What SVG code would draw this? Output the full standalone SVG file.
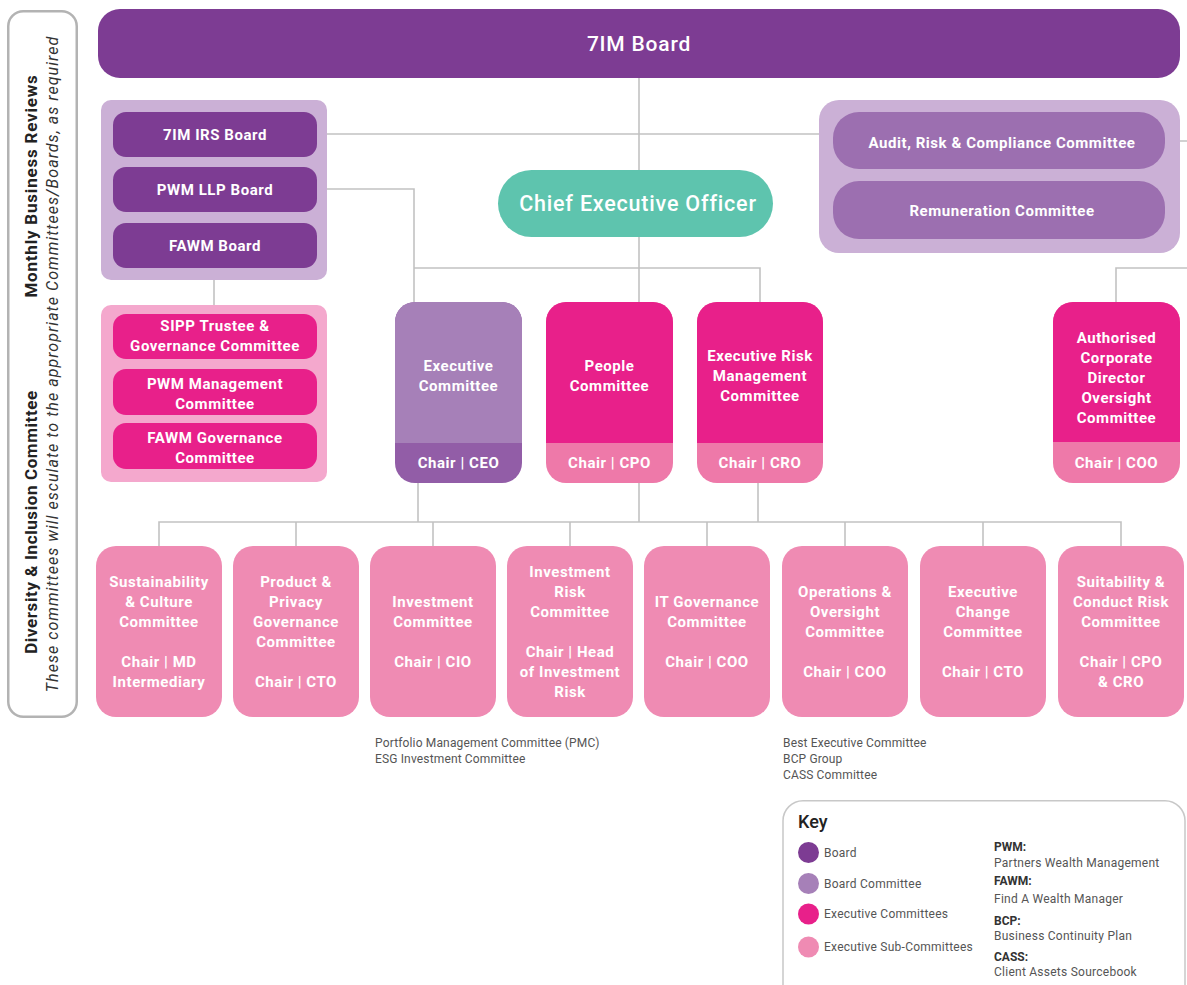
<svg xmlns="http://www.w3.org/2000/svg" width="1187" height="985" viewBox="0 0 1187 985">
<style>
.t{font-family:Roboto,"Liberation Sans",sans-serif;fill:#fff;text-anchor:middle}
.b{font-weight:bold;font-size:15px;letter-spacing:0.55px}
.ln{fill:none;stroke:#c2c2c2;stroke-width:1.6}
.g{font-family:Roboto,"Liberation Sans",sans-serif;fill:#555;font-size:12px;letter-spacing:0.25px}
.k{font-family:Roboto,"Liberation Sans",sans-serif;fill:#333;font-size:12px;font-weight:bold}
.board{fill:#7d3c93}
.bc{fill:#9c6fb0}
.panel{fill:#cbb0d6}
.exec{fill:#e8208a}
.band{fill:#ee79a9}
.sub{fill:#ef8bb3}
</style>
<rect x="0" y="0" width="1187" height="985" fill="#fff"/>

<g id="side-panel">
<rect x="8.25" y="11.25" width="68.5" height="705.5" rx="15" fill="none" stroke="#b3b3b3" stroke-width="2.5"/>
<text class="t" transform="translate(37,186) rotate(-90)" style="fill:#222;font-weight:bold;font-size:17px;letter-spacing:0.8px">Monthly Business Reviews</text>
<text class="t" transform="translate(37,522) rotate(-90)" style="fill:#222;font-weight:bold;font-size:17px;letter-spacing:0.6px">Diversity &amp; Inclusion Committee</text>
<text class="t" transform="translate(58,364) rotate(-90)" style="fill:#333;font-style:italic;font-size:16px;letter-spacing:1.05px">These committees will esculate to the appropriate Committees/Boards, as required</text>
</g>

<g id="connectors">
<path class="ln" d="M639,78 V170 M327,134 H819 M1180,141 H1187 M327,189 H414 V302 M639,237 V302 M414,268 H760 V302 M1187,268 H1116 V302 M214,280 V305 M418,483 V522 M639,483 V522 M758,483 V522 M159,546 V522 H1121 V546 M296,522 V546 M433,522 V546 M570,522 V546 M707,522 V546 M845,522 V546 M983,522 V546"/>
</g>

<g id="board-7im">
<rect class="board" x="98" y="9" width="1082" height="69" rx="22"/>
<text class="t" x="639" y="51" style="font-size:21px;font-weight:500;letter-spacing:0.8px">7IM Board</text>
</g>

<g id="subsidiary-boards">
<rect class="panel" x="101" y="100" width="226" height="180" rx="10"/>
<g id="irs-board"><rect class="board" x="113" y="112" width="204" height="45" rx="13"/><text class="t b" x="215" y="140">7IM IRS Board</text></g>
<g id="pwm-llp-board"><rect class="board" x="113" y="167" width="204" height="45" rx="13"/><text class="t b" x="215" y="195">PWM LLP Board</text></g>
<g id="fawm-board"><rect class="board" x="113" y="223" width="204" height="45" rx="13"/><text class="t b" x="215" y="251">FAWM Board</text></g>
</g>

<g id="subsidiary-committees">
<rect x="101" y="305" width="226" height="177" rx="10" fill="#f4a8cd"/>
<g id="sipp"><rect class="exec" x="113" y="314" width="204" height="45" rx="13"/><text class="t b" x="215" y="331">SIPP Trustee &amp;</text><text class="t b" x="215" y="351">Governance Committee</text></g>
<g id="pwm-mgmt"><rect class="exec" x="113" y="369" width="204" height="46" rx="13"/><text class="t b" x="215" y="389">PWM Management</text><text class="t b" x="215" y="409">Committee</text></g>
<g id="fawm-gov"><rect class="exec" x="113" y="423" width="204" height="46" rx="13"/><text class="t b" x="215" y="443">FAWM Governance</text><text class="t b" x="215" y="463">Committee</text></g>
</g>

<g id="board-committees">
<rect class="panel" x="819" y="100" width="361" height="153" rx="20"/>
<g id="audit"><rect class="bc" x="833" y="112" width="332" height="57" rx="26"/><text class="t b" x="1002" y="148">Audit, Risk &amp; Compliance Committee</text></g>
<g id="remuneration"><rect class="bc" x="833" y="181" width="332" height="58" rx="26"/><text class="t b" x="1002" y="216">Remuneration Committee</text></g>
</g>

<g id="ceo">
<rect x="498" y="170" width="275" height="67" rx="33.5" fill="#5ec4ae"/>
<text class="t" x="638" y="211" style="font-size:21.5px;font-weight:500;letter-spacing:0.8px">Chief Executive Officer</text>
</g>

<g id="executive-committee">
<rect x="395" y="302" width="127" height="181" rx="20" fill="#925da7"/>
<path d="M395,322 A20,20 0 0 1 415,302 H502 A20,20 0 0 1 522,322 V443 H395 Z" fill="#a680b8"/>
<text class="t b" x="458.5" y="371">Executive</text><text class="t b" x="458.5" y="391">Committee</text>
<text class="t b" x="458.5" y="468">Chair | CEO</text>
</g>

<g id="people-committee">
<rect class="band" x="546" y="302" width="127" height="181" rx="20"/>
<path class="exec" d="M546,322 A20,20 0 0 1 566,302 H653 A20,20 0 0 1 673,322 V443 H546 Z"/>
<text class="t b" x="609.5" y="371">People</text><text class="t b" x="609.5" y="391">Committee</text>
<text class="t b" x="609.5" y="468">Chair | CPO</text>
</g>

<g id="exec-risk-committee">
<rect class="band" x="697" y="302" width="126" height="181" rx="20"/>
<path class="exec" d="M697,322 A20,20 0 0 1 717,302 H803 A20,20 0 0 1 823,322 V443 H697 Z"/>
<text class="t b" x="760" y="361">Executive Risk</text><text class="t b" x="760" y="381">Management</text><text class="t b" x="760" y="401">Committee</text>
<text class="t b" x="760" y="468">Chair | CRO</text>
</g>

<g id="acd-committee">
<rect class="band" x="1053" y="302" width="127" height="181" rx="20"/>
<path class="exec" d="M1053,322 A20,20 0 0 1 1073,302 H1160 A20,20 0 0 1 1180,322 V442 H1053 Z"/>
<text class="t b" x="1116.5" y="343">Authorised</text><text class="t b" x="1116.5" y="363">Corporate</text><text class="t b" x="1116.5" y="383">Director</text><text class="t b" x="1116.5" y="403">Oversight</text><text class="t b" x="1116.5" y="423">Committee</text>
<text class="t b" x="1116.5" y="468">Chair | COO</text>
</g>

<g id="sustainability">
<rect class="sub" x="96" y="546" width="126" height="171" rx="20"/>
<text class="t b" x="159" y="587">Sustainability</text><text class="t b" x="159" y="607">&amp; Culture</text><text class="t b" x="159" y="627">Committee</text><text class="t b" x="159" y="667">Chair | MD</text><text class="t b" x="159" y="687">Intermediary</text>
</g>
<g id="product-privacy">
<rect class="sub" x="233" y="546" width="126" height="171" rx="20"/>
<text class="t b" x="296" y="587">Product &amp;</text><text class="t b" x="296" y="607">Privacy</text><text class="t b" x="296" y="627">Governance</text><text class="t b" x="296" y="647">Committee</text><text class="t b" x="296" y="687">Chair | CTO</text>
</g>
<g id="investment">
<rect class="sub" x="370" y="546" width="126" height="171" rx="20"/>
<text class="t b" x="433" y="607">Investment</text><text class="t b" x="433" y="627">Committee</text><text class="t b" x="433" y="667">Chair | CIO</text>
</g>
<g id="investment-risk">
<rect class="sub" x="507" y="546" width="126" height="171" rx="20"/>
<text class="t b" x="570" y="577">Investment</text><text class="t b" x="570" y="597">Risk</text><text class="t b" x="570" y="617">Committee</text><text class="t b" x="570" y="657">Chair | Head</text><text class="t b" x="570" y="677">of Investment</text><text class="t b" x="570" y="697">Risk</text>
</g>
<g id="it-governance">
<rect class="sub" x="644" y="546" width="126" height="171" rx="20"/>
<text class="t b" x="707" y="607">IT Governance</text><text class="t b" x="707" y="627">Committee</text><text class="t b" x="707" y="667">Chair | COO</text>
</g>
<g id="operations">
<rect class="sub" x="782" y="546" width="126" height="171" rx="20"/>
<text class="t b" x="845" y="597">Operations &amp;</text><text class="t b" x="845" y="617">Oversight</text><text class="t b" x="845" y="637">Committee</text><text class="t b" x="845" y="677">Chair | COO</text>
</g>
<g id="exec-change">
<rect class="sub" x="920" y="546" width="126" height="171" rx="20"/>
<text class="t b" x="983" y="597">Executive</text><text class="t b" x="983" y="617">Change</text><text class="t b" x="983" y="637">Committee</text><text class="t b" x="983" y="677">Chair | CTO</text>
</g>
<g id="suitability">
<rect class="sub" x="1058" y="546" width="126" height="171" rx="20"/>
<text class="t b" x="1121" y="587">Suitability &amp;</text><text class="t b" x="1121" y="607">Conduct Risk</text><text class="t b" x="1121" y="627">Committee</text><text class="t b" x="1121" y="667">Chair | CPO</text><text class="t b" x="1121" y="687">&amp; CRO</text>
</g>

<g id="notes">
<text class="g" x="375" y="747" style="letter-spacing:0.15px">Portfolio Management Committee (PMC)</text>
<text class="g" x="375" y="763" style="letter-spacing:0.15px">ESG Investment Committee</text>
<text class="g" x="783" y="747" style="letter-spacing:0.15px">Best Executive Committee</text>
<text class="g" x="783" y="763" style="letter-spacing:0.15px">BCP Group</text>
<text class="g" x="783" y="779" style="letter-spacing:0.15px">CASS Committee</text>
</g>

<g id="key">
<rect x="783" y="800.75" width="402" height="210" rx="20" fill="#fff" stroke="#c8c8c8" stroke-width="1.5"/>
<text x="798" y="828" style="font-family:Roboto,'Liberation Sans',sans-serif;font-size:18px;font-weight:500;fill:#222">Key</text>
<circle cx="808.5" cy="852.5" r="10.5" fill="#7d3c93"/>
<circle cx="808.5" cy="883.5" r="10.5" fill="#a680b8"/>
<circle cx="808.5" cy="914" r="10.5" fill="#e8208a"/>
<circle cx="808.5" cy="947" r="10.5" fill="#ef8bb3"/>
<text class="g" x="824" y="856.5">Board</text>
<text class="g" x="824" y="887.5">Board Committee</text>
<text class="g" x="824" y="918">Executive Committees</text>
<text class="g" x="824" y="951">Executive Sub-Committees</text>
<text class="k" x="994" y="851">PWM:</text>
<text class="g" x="994" y="867">Partners Wealth Management</text>
<text class="k" x="994" y="885">FAWM:</text>
<text class="g" x="994" y="903">Find A Wealth Manager</text>
<text class="k" x="994" y="925">BCP:</text>
<text class="g" x="994" y="940">Business Continuity Plan</text>
<text class="k" x="994" y="961">CASS:</text>
<text class="g" x="994" y="976">Client Assets Sourcebook</text>
</g>
</svg>
